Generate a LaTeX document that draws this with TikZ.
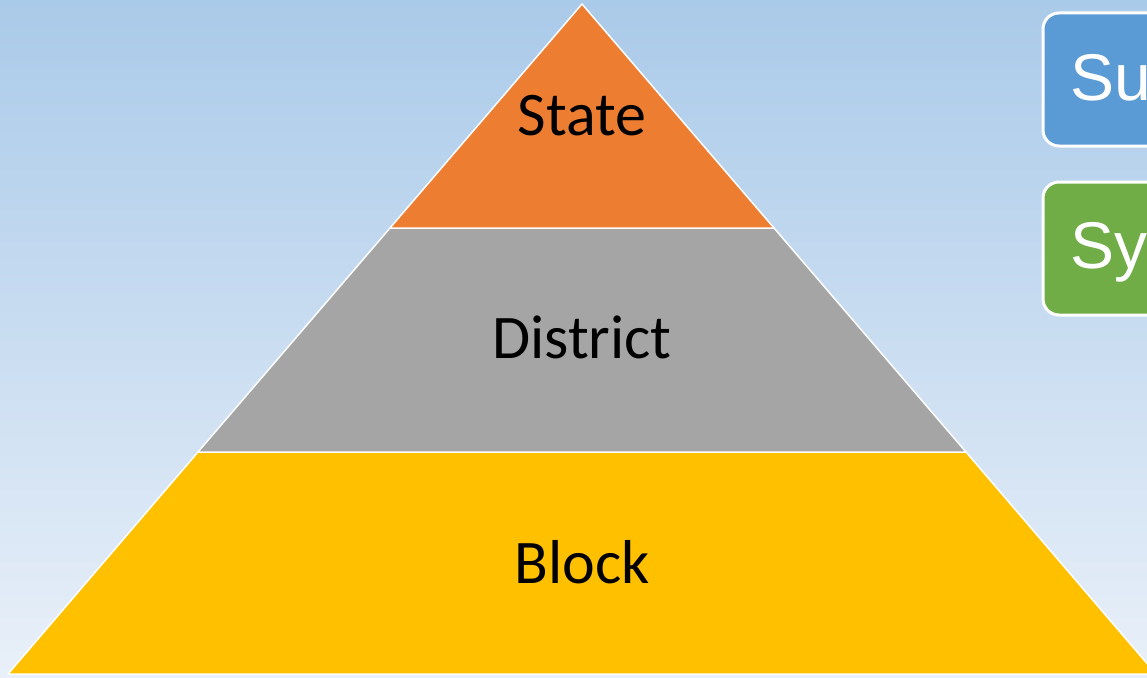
\documentclass[tikz,border=0pt]{standalone}
\usepackage{fontspec}
\setmainfont{Carlito}
\newfontfamily\arialfont{Liberation Sans}
\definecolor{bgtop}{RGB}{170,202,233}
\definecolor{bgbot}{RGB}{233,240,249}
\definecolor{orng}{RGB}{237,125,49}
\definecolor{gry}{RGB}{165,165,165}
\definecolor{yel}{RGB}{255,192,0}
\definecolor{blu}{RGB}{91,155,213}
\definecolor{grn}{RGB}{112,173,71}
\tikzset{
  layer/.style={draw=white, line width=1.5pt, line join=round},
  lbl/.style={anchor=base, font=\fontsize{62}{62}\selectfont, text=black, inner sep=0pt},
  sidebox/.style={draw=white, line width=3pt, rounded corners=16pt},
  sidelbl/.style={anchor=base west, font=\arialfont\fontsize{66}{66}\selectfont, text=white, inner sep=0pt}
}
\begin{document}
\begin{tikzpicture}[x=1pt,y=-1pt]
\useasboundingbox (0,0) rectangle (1147,677);
\clip (0,0) rectangle (1147,677);
\shade[top color=bgtop, bottom color=bgbot] (0,0) rectangle (1147,677);
% pyramid
\coordinate (apex) at (582,4);
\coordinate (l1) at (390,228);
\coordinate (r1) at (774,228);
\coordinate (l2) at (198,452);
\coordinate (r2) at (966,452);
\coordinate (bl) at (8,674);
\coordinate (br) at (1156,674);
\draw[layer, fill=yel] (l2) -- (r2) -- (br) -- (bl) -- cycle;
\draw[layer, fill=gry] (l1) -- (r1) -- (r2) -- (l2) -- cycle;
\draw[layer, fill=orng] (apex) -- (r1) -- (l1) -- cycle;
\node[lbl] (state) at (582,135) {State};
\node[lbl] (district) at (582,358) {District};
\node[lbl] (block) at (582,583) {Block};
% side boxes
\draw[sidebox, fill=blu] (1200,13) -- (1043,13) -- (1043,146) -- (1200,146);
\draw[sidebox, fill=grn] (1200,182) -- (1043,182) -- (1043,315) -- (1200,315);
\node[sidelbl] (su) at (1070,100) {Su};
\node[sidelbl] (sy) at (1070,268) {Sy};
\end{tikzpicture}
\end{document}
